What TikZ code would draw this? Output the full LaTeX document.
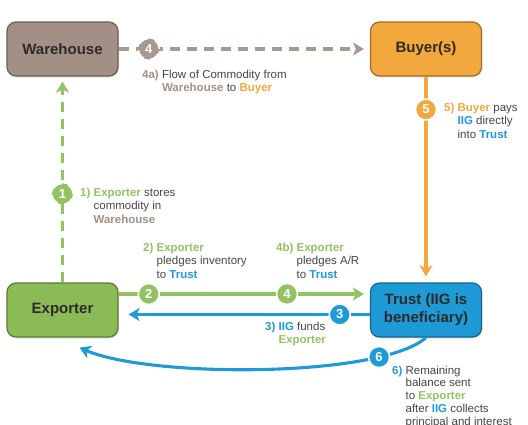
\documentclass[tikz,border=0pt]{standalone}
\usepackage{fontspec}
\setmainfont{Liberation Sans}
\usetikzlibrary{arrows.meta, shadows}

\definecolor{whbrown}{HTML}{A39085}
\definecolor{whline}{HTML}{A8988E}
\definecolor{byorange}{HTML}{F2A83C}
\definecolor{exgreen}{HTML}{8BBB57}
\definecolor{grnline}{HTML}{93C263}
\definecolor{trblue}{HTML}{1E9AD6}
\definecolor{boxtext}{HTML}{2E2A28}
\definecolor{notegray}{HTML}{454545}

\newcommand\kw[2]{\textcolor{#1}{\textbf{#2}}}

\begin{document}
\begin{tikzpicture}[x=1pt, y=-1pt,
        party/.style={draw=#1!65!black, fill=#1, rounded corners=9pt, line width=1.2pt,
            minimum width=111pt, minimum height=54pt, align=center, text=boxtext,
            font=\fontsize{15}{18}\selectfont\bfseries,
            drop shadow={opacity=0.2, shadow xshift=1pt, shadow yshift=-1.5pt}},
        stepdot/.style={circle, fill=#1, draw=white, line width=1.5pt, minimum size=21pt,
            inner sep=0pt, text=white, font=\fontsize{13}{13}\selectfont\bfseries},
        flow/.style={draw=#1, line width=3.1pt, -{Stealth[length=11pt, width=13pt, inset=3pt]}},
        note/.style={anchor=base west, inner sep=0pt, text=notegray,
            font=\fontsize{11.5}{13.5}\selectfont}
    ]
        \useasboundingbox (0,0) rectangle (528,424);

        \node[party=whbrown] (warehouse) at (62.5,49) {Warehouse};
        \node[party=byorange] (buyer) at (426,49) {Buyer(s)};
        \node[party=exgreen] (exporter) at (62.5,310) {Exporter};
        \node[party=trblue] (trust) at (426,310) {Trust (IIG is\\beneficiary)};

        \draw[flow=grnline, dash pattern=on 10pt off 7pt, shorten >=5pt]
            (exporter.north) -- (warehouse.south)
            node[stepdot=grnline, pos=0.43] (s1) {1};
        \draw[flow=whline, dash pattern=on 10pt off 7pt, shorten >=6pt]
            (warehouse.east) -- (buyer.west)
            node[stepdot=whline, pos=0.12] (s4a) {4};
        \draw[flow=byorange, shorten >=6pt]
            (buyer.south) -- (trust.north)
            node[stepdot=byorange, pos=0.16] (s5) {5};
        \draw[flow=grnline, shorten >=6pt]
            ([yshift=16pt]exporter.east) -- ([yshift=16pt]trust.west)
            node[stepdot=grnline, pos=0.12] (s2) {2}
            node[stepdot=grnline, pos=0.67] (s4b) {4};
        \draw[flow=trblue, shorten >=10pt]
            ([yshift=-4.5pt]trust.west) -- ([yshift=-4.5pt]exporter.east)
            node[stepdot=trblue, pos=0.12] (s3) {3};
        \draw[flow=trblue]
            (trust.south) .. controls (380,378) and (150,378) .. ([shift={(17pt,-10pt)}]exporter.south)
            node[stepdot=trblue, pos=0.2] (s6) {6};

        \node[note] (n4a) at (142,78) {\kw{whbrown}{4a)} \begin{tabular}[t]{@{}l@{}}Flow of Commodity from\\
            \kw{whbrown}{Warehouse} to \kw{byorange}{Buyer}\end{tabular}};
        \node[note] (n5) at (444,111) {\kw{byorange}{5)} \begin{tabular}[t]{@{}l@{}}\kw{byorange}{Buyer} pays\\
            \kw{trblue}{IIG} directly\\into \kw{trblue}{Trust}\end{tabular}};
        \node[note] (n1) at (80,196) {\kw{grnline}{1)} \begin{tabular}[t]{@{}l@{}}\kw{grnline}{Exporter} stores\\
            commodity in\\\kw{whbrown}{Warehouse}\end{tabular}};
        \node[note] (n2) at (143,251) {\kw{grnline}{2)} \begin{tabular}[t]{@{}l@{}}\kw{grnline}{Exporter}\\
            pledges inventory\\to \kw{trblue}{Trust}\end{tabular}};
        \node[note] (n4b) at (276,251) {\kw{grnline}{4b)} \begin{tabular}[t]{@{}l@{}}\kw{grnline}{Exporter}\\
            pledges A/R\\to \kw{trblue}{Trust}\end{tabular}};
        \node[note] (n3) at (265,330) {\kw{trblue}{3)} \begin{tabular}[t]{@{}l@{}}\kw{trblue}{IIG} funds\\
            \kw{grnline}{Exporter}\end{tabular}};
        \node[note, font=\fontsize{11.5}{12.8}\selectfont] (n6) at (392,374) {\kw{trblue}{6)} \begin{tabular}[t]{@{}l@{}}Remaining\\
            balance sent\\to \kw{grnline}{Exporter}\\after \kw{trblue}{IIG} collects\\
            principal and interest\end{tabular}};
\end{tikzpicture}
\end{document}
